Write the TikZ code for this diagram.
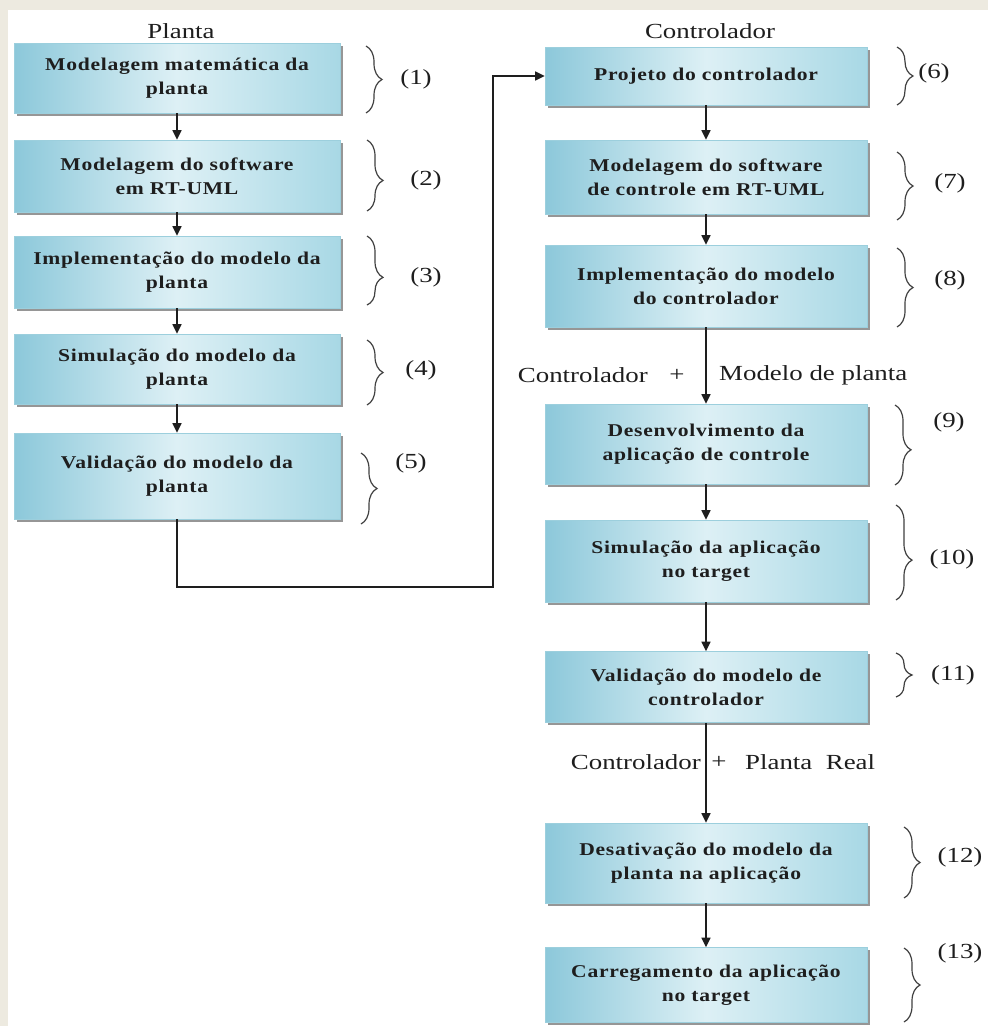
\documentclass[tikz,border=0pt]{standalone}
\usepackage{fontspec}
\setmainfont{Liberation Serif}
\newfontfamily\boxfont{Liberation Serif}[FakeStretch=1.2, LetterSpace=4]
\newfontfamily\lblfont{Liberation Serif}[FakeStretch=1.25]
\usetikzlibrary{arrows.meta, decorations.pathreplacing, shadows}

\definecolor{bgbeige}{HTML}{EDEAE0}
\definecolor{boxL}{HTML}{8CC8DA}
\definecolor{boxM}{HTML}{DDF0F5}
\definecolor{boxR}{HTML}{A8D8E5}
\definecolor{boxedge}{HTML}{9CCFDD}
\definecolor{ink}{HTML}{1E1E1E}

\tikzset{
  stepbox/.style={rectangle, inner sep=0pt, align=center, text width=310pt,
    font=\boxfont\bfseries\fontsize{18}{24}\selectfont, text=ink,
    draw=boxedge, line width=0.6pt,
    left color=boxL, right color=boxR, middle color=boxM,
    drop shadow={shadow xshift=2.5pt, shadow yshift=-2.5pt, fill=black!55, opacity=0.75}},
  leftbox/.style={stepbox, minimum width=326pt},
  rightbox/.style={stepbox, minimum width=322pt},
  lbl/.style={inner sep=0pt, font=\lblfont\fontsize{21.5}{25}\selectfont, text=ink},
  conn/.style={draw=ink, line width=1.4pt, -{Triangle[length=9.5pt,width=9pt]}},
  curl/.style={draw=ink!85, line width=1.2pt, decorate,
    decoration={brace, amplitude=16pt, aspect=#1}},
  curl/.default=0.5
}

\begin{document}
\begin{tikzpicture}[x=1pt,y=-1pt]
  % page background with the beige frame strips
  \fill[white] (0,0) rectangle (988,1026);
  \fill[bgbeige] (0,0) rectangle (988,10);
  \fill[bgbeige] (0,0) rectangle (8,1026);
  \useasboundingbox (0,0) rectangle (988,1026);

  % column headings
  \node[lbl] (hplanta) at (181,31) {Planta};
  \node[lbl] (hctrl) at (710,31) {Controlador};

  % plant column
  \node[leftbox, minimum height=70pt] (b1) at (177,78) {Modelagem matemática da\\planta};
  \node[leftbox, minimum height=72pt] (b2) at (177,176) {Modelagem do software\\em RT-UML};
  \node[leftbox, minimum height=72pt] (b3) at (177,272) {Implementação do modelo da\\planta};
  \node[leftbox, minimum height=70pt] (b4) at (177,369) {Simulação do modelo da\\planta};
  \node[leftbox, minimum height=86pt] (b5) at (177,476) {Validação do modelo da\\planta};

  % controller column
  \node[rightbox, minimum height=58pt] (b6) at (706,76) {Projeto do controlador};
  \node[rightbox, minimum height=74pt] (b7) at (706,177) {Modelagem do software\\de controle em RT-UML};
  \node[rightbox, minimum height=82pt] (b8) at (706,286) {Implementação do modelo\\do controlador};
  \node[rightbox, minimum height=80pt] (b9) at (706,444) {Desenvolvimento da\\aplicação de controle};
  \node[rightbox, minimum height=82pt] (b10) at (706,561) {Simulação da aplicação\\no target};
  \node[rightbox, minimum height=71pt] (b11) at (706,687) {Validação do modelo de\\controlador};
  \node[rightbox, minimum height=80pt] (b12) at (706,863) {Desativação do modelo da\\planta na aplicação};
  \node[rightbox, minimum height=75pt] (b13) at (706,985) {Carregamento da aplicação\\no target};

  % annotations on the controller flow
  \node[lbl, anchor=east] (m1a) at (648,375) {Controlador};
  \node[lbl] (m1p) at (677,375) {+};
  \node[lbl, anchor=west] (m1b) at (719,375) {Modelo de planta};
  \node[lbl, anchor=east] (m2a) at (701,762) {Controlador};
  \node[lbl] (m2p) at (719,762) {+};
  \node[lbl, anchor=west] (m2b) at (745,762) {Planta\ \ Real};

  % flow arrows
  \draw[conn] (b1) -- (b2);
  \draw[conn] (b2) -- (b3);
  \draw[conn] (b3) -- (b4);
  \draw[conn] (b4) -- (b5);
  \coordinate (t1) at (b5.south |- 0,587);
  \coordinate (t2) at (493,587);
  \draw[conn] (b5.south) -- (t1) -- (t2) |- (b6.west);
  \draw[conn] (b6) -- (b7);
  \draw[conn] (b7) -- (b8);
  \draw[conn] (b8) -- (b9);
  \draw[conn] (b9) -- (b10);
  \draw[conn] (b10) -- (b11);
  \draw[conn] (b11) -- (b12);
  \draw[conn] (b12) -- (b13);

  % step braces and numbers, plant side
  \draw[curl] (366,46) -- (366,113);
  \node[lbl] (n1) at (416,79) {(1)};
  \draw[curl=0.57] (367,140) -- (367,211);
  \node[lbl] (n2) at (426,180) {(2)};
  \draw[curl=0.6] (367,236) -- (367,305);
  \node[lbl] (n3) at (426,277) {(3)};
  \draw[curl] (367,340) -- (367,405);
  \node[lbl] (n4) at (421,370) {(4)};
  \draw[curl] (361,453) -- (361,524);
  \node[lbl] (n5) at (411,463) {(5)};

  % step braces and numbers, controller side
  \draw[curl] (897,47) -- (897,105);
  \node[lbl] (n6) at (934,73) {(6)};
  \draw[curl] (897,152) -- (897,220);
  \node[lbl] (n7) at (950,183) {(7)};
  \draw[curl] (897,248) -- (897,327);
  \node[lbl] (n8) at (950,280) {(8)};
  \draw[curl=0.56] (895,405) -- (895,485);
  \node[lbl] (n9) at (949,422) {(9)};
  \draw[curl=0.58] (896,505) -- (896,600);
  \node[lbl] (n10) at (952,559) {(10)};
  \draw[curl] (896,653) -- (896,697);
  \node[lbl] (n11) at (953,675) {(11)};
  \draw[curl] (904,827) -- (904,898);
  \node[lbl] (n12) at (960,857) {(12)};
  \draw[curl] (904,948) -- (904,1022);
  \node[lbl] (n13) at (960,953) {(13)};
\end{tikzpicture}
\end{document}
